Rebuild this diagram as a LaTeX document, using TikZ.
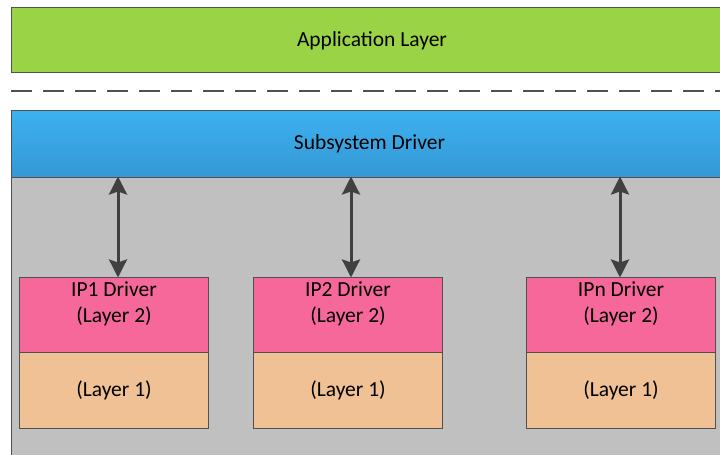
\documentclass[tikz,border=0pt]{standalone}
\usepackage{fontspec}
\setmainfont{Carlito}
\usetikzlibrary{arrows.meta,positioning}
\definecolor{appgreen}{RGB}{155,211,71}
\definecolor{bluetop}{RGB}{61,177,240}
\definecolor{bluebot}{RGB}{52,152,213}
\definecolor{areagray}{RGB}{192,192,192}
\definecolor{pinkc}{RGB}{246,103,154}
\definecolor{peachc}{RGB}{240,193,148}
\definecolor{edgec}{RGB}{80,80,80}
\definecolor{arrowc}{RGB}{64,64,64}
\tikzset{
  lbl/.style={font=\fontsize{21.5}{26}\selectfont, text=black, align=center, inner sep=0pt},
  layerbox/.style={draw=edgec, line width=1pt, rectangle, anchor=north west, inner sep=0pt},
  pinkbox/.style={layerbox, fill=pinkc, minimum width=189pt, minimum height=75pt},
  peachbox/.style={layerbox, fill=peachc, minimum width=189pt, minimum height=76pt, font=\fontsize{21.5}{26}\selectfont},
  link/.style={draw=arrowc, line width=3pt, {Stealth[length=18pt,width=18pt,inset=3pt]}-{Stealth[length=18pt,width=18pt,inset=3pt]}, shorten <=-0.5pt, shorten >=-0.5pt},
}
\begin{document}
\begin{tikzpicture}[x=1pt,y=-1pt]
\useasboundingbox (0,0) rectangle (720,455);
\clip (0,0) rectangle (720,455);
% application layer
\node[layerbox, fill=appgreen, minimum width=722pt, minimum height=65pt] (app) at (11,7) {};
\node[lbl] (apptext) at (372,41) {Application Layer};
% dashed separator
\coordinate (dl) at (11,91);
\coordinate (dr) at (722,91);
\draw[draw=edgec, line width=2.8pt, dash pattern=on 21pt off 11pt] (dl) -- (dr);
% gray area
\node[layerbox, fill=areagray, minimum width=722pt, minimum height=290pt] (area) at (11,177) {};
% subsystem driver
\node[layerbox, top color=bluetop, bottom color=bluebot, minimum width=716pt, minimum height=67pt] (sub) at (11,110) {};
\node[lbl] (subtext) at (369.5,144) {Subsystem Driver};
% IP boxes
\node[pinkbox] (ip1) at (19,277) {};
\node[peachbox] (l1a) at (19,352) {(Layer 1)};
\node[lbl, below=5pt of ip1.north] (t1) {IP1 Driver\\(Layer 2)};
\node[pinkbox] (ip2) at (253,277) {};
\node[peachbox] (l1b) at (253,352) {(Layer 1)};
\node[lbl, below=5pt of ip2.north] (t2) {IP2 Driver\\(Layer 2)};
\node[pinkbox] (ipn) at (526,277) {};
\node[peachbox] (l1n) at (526,352) {(Layer 1)};
\node[lbl, below=5pt of ipn.north] (tn) {IPn Driver\\(Layer 2)};
% arrows
\coordinate (s1) at (118,177);
\coordinate (s2) at (351,177);
\coordinate (sn) at (620,177);
\draw[link] (s1) -- (s1 |- ip1.north);
\draw[link] (s2) -- (s2 |- ip2.north);
\draw[link] (sn) -- (sn |- ipn.north);
\end{tikzpicture}
\end{document}
